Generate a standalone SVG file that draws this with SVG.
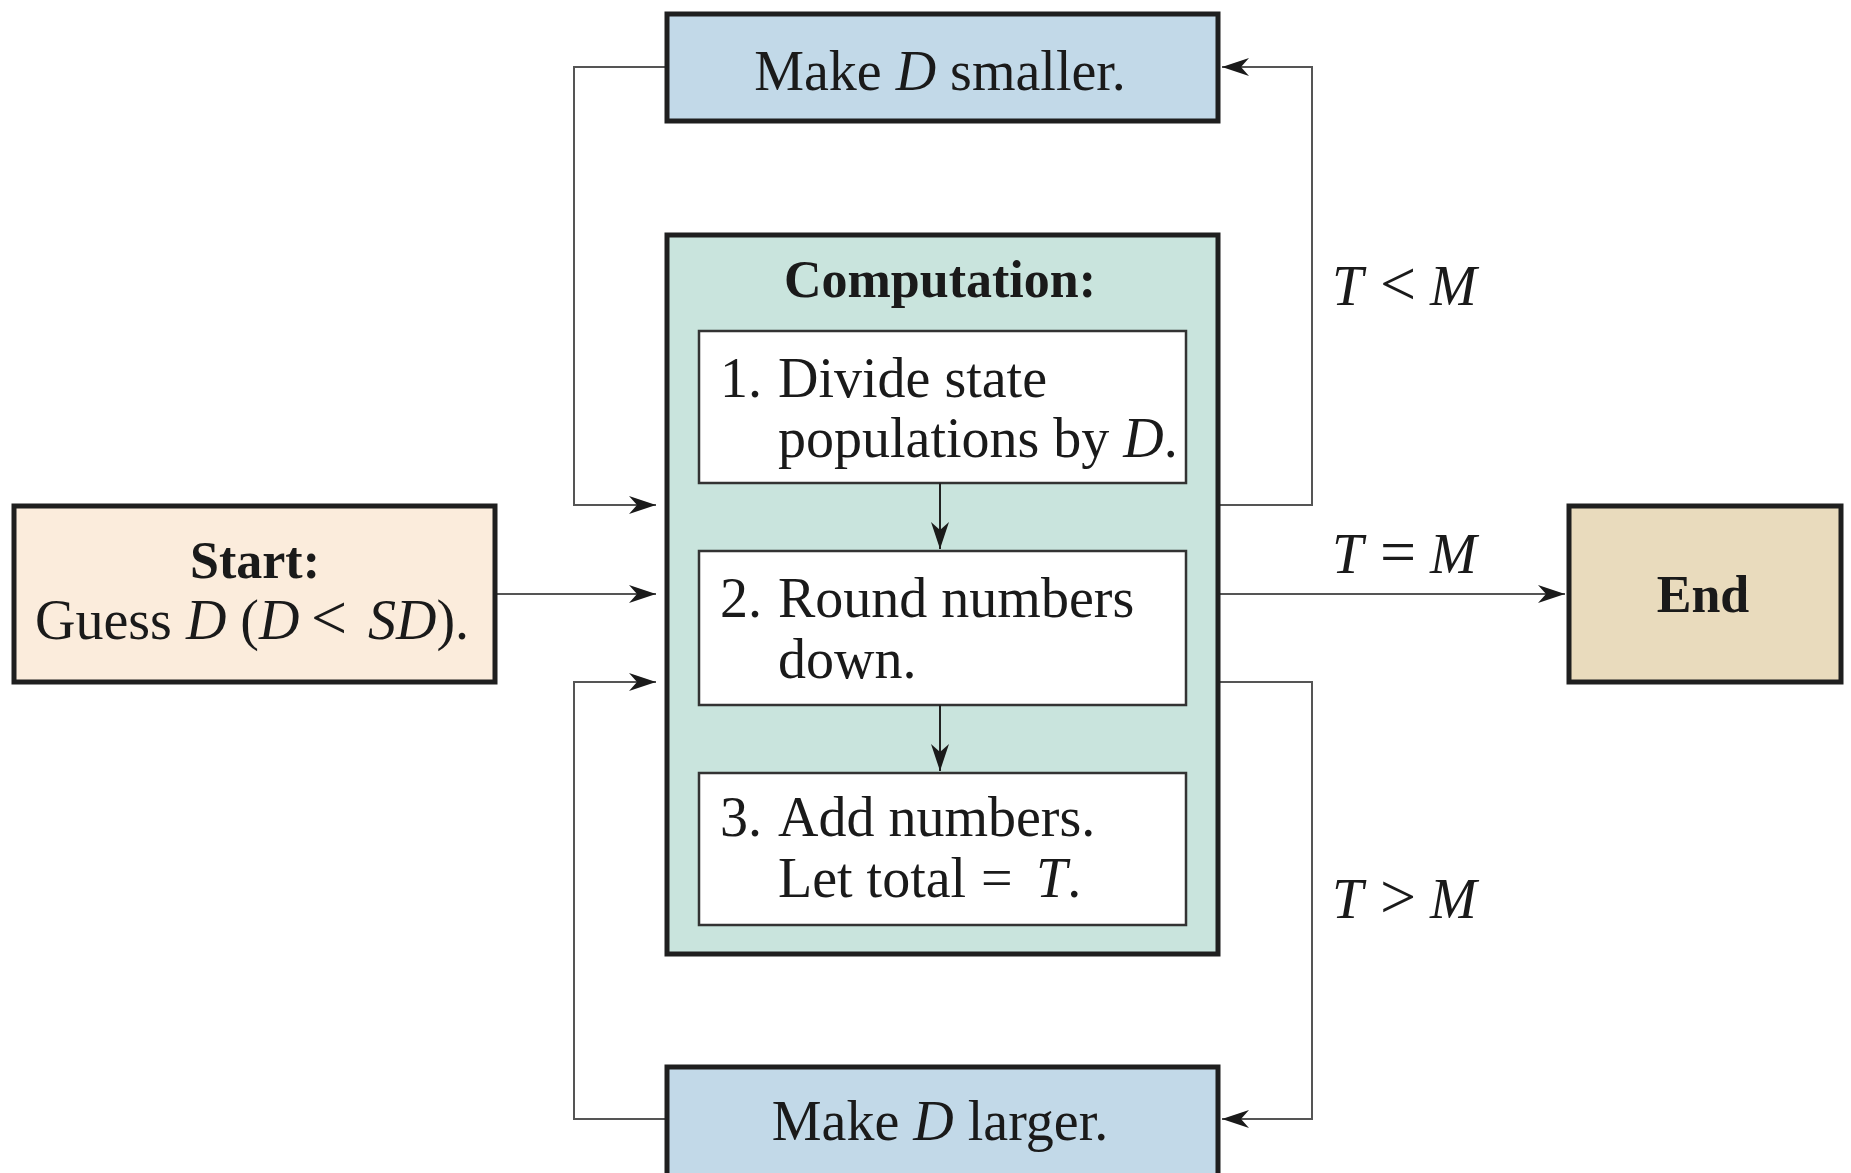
<svg xmlns="http://www.w3.org/2000/svg" width="1851" height="1173" viewBox="0 0 1851 1173">
<defs>
<style>
.box{stroke:#1f1f1f;stroke-width:5}
.inner{fill:#ffffff;stroke:#333;stroke-width:2.5}
.t{font-family:"Liberation Serif","Times New Roman",serif;font-size:56px;fill:#1a1a1a}
.b{font-weight:bold;font-size:52px}
.i{font-style:italic}
.op{font-size:64px}
.c{stroke:#555;stroke-width:2;fill:none}
.ci{stroke:#222;stroke-width:2;fill:none}
</style>
<marker id="ah" markerUnits="userSpaceOnUse" viewBox="-28 -10 30 20" refX="0" refY="0" markerWidth="30" markerHeight="20" orient="auto">
<path d="M0,0 L-27,-9 L-19,0 L-27,9 Z" fill="#1a1a1a"/>
</marker>
</defs>
<rect width="1851" height="1173" fill="#ffffff"/>

<g id="connectors">
<polyline class="c" points="667,67 574,67 574,505 656,505" marker-end="url(#ah)"/>
<line class="c" x1="495" y1="594" x2="656" y2="594" marker-end="url(#ah)"/>
<polyline class="c" points="667,1119 574,1119 574,682 656,682" marker-end="url(#ah)"/>
<polyline class="c" points="1218,505 1312,505 1312,67 1222,67" marker-end="url(#ah)"/>
<line class="c" x1="1218" y1="594" x2="1565" y2="594" marker-end="url(#ah)"/>
<polyline class="c" points="1218,682 1312,682 1312,1119 1222,1119" marker-end="url(#ah)"/>
</g>

<g id="make-smaller">
<rect class="box" x="667" y="14" width="551" height="107" fill="#c2d9e8"/>
<text class="t" x="940" y="90" text-anchor="middle">Make <tspan class="i">D</tspan> smaller.</text>
</g>

<g id="computation">
<rect class="box" x="667" y="235" width="551" height="719" fill="#c9e4dd"/>
<text class="t b" x="940" y="297" text-anchor="middle">Computation:</text>
</g>

<g id="step1">
<rect class="inner" x="699" y="331" width="487" height="152"/>
<text class="t" x="720" y="397">1.</text>
<text class="t" x="778" y="397">Divide state</text>
<text class="t" x="778" y="457">populations by <tspan class="i">D</tspan>.</text>
</g>

<g id="step2">
<rect class="inner" x="699" y="551" width="487" height="154"/>
<text class="t" x="720" y="617">2.</text>
<text class="t" x="778" y="617">Round numbers</text>
<text class="t" x="778" y="678">down.</text>
</g>

<g id="step3">
<rect class="inner" x="699" y="773" width="487" height="152"/>
<text class="t" x="720" y="836">3.</text>
<text class="t" x="778" y="836">Add numbers.</text>
<text class="t" x="778" y="897">Let total<tspan x="981">=</tspan><tspan class="i" x="1036">T</tspan>.</text>
</g>

<g id="inner-arrows">
<line class="ci" x1="940" y1="483" x2="940" y2="549" marker-end="url(#ah)"/>
<line class="ci" x1="940" y1="705" x2="940" y2="771" marker-end="url(#ah)"/>
</g>

<g id="start">
<rect class="box" x="14" y="506" width="481" height="176" fill="#fbecdc"/>
<text class="t b" x="255" y="578" text-anchor="middle">Start:</text>
<text class="t" x="35" y="639">Guess <tspan class="i">D</tspan> (<tspan class="i">D</tspan><tspan class="op" x="311">&lt;</tspan><tspan class="i" x="368">SD</tspan>).</text>
</g>

<g id="end">
<rect class="box" x="1569" y="506" width="272" height="176" fill="#e9dbbd"/>
<text class="t b" x="1703" y="612" text-anchor="middle">End</text>
</g>

<g id="make-larger">
<rect class="box" x="667" y="1067" width="551" height="115" fill="#c2d9e8"/>
<text class="t" x="940" y="1140" text-anchor="middle">Make <tspan class="i">D</tspan> larger.</text>
</g>

<g id="labels">
<text class="t" y="305"><tspan class="i" x="1332">T</tspan><tspan class="op" x="1380">&lt;</tspan><tspan class="i" x="1430">M</tspan></text>
<text class="t" y="573"><tspan class="i" x="1332">T</tspan><tspan class="op" x="1380">=</tspan><tspan class="i" x="1430">M</tspan></text>
<text class="t" y="918"><tspan class="i" x="1332">T</tspan><tspan class="op" x="1380">&gt;</tspan><tspan class="i" x="1430">M</tspan></text>
</g>
</svg>
